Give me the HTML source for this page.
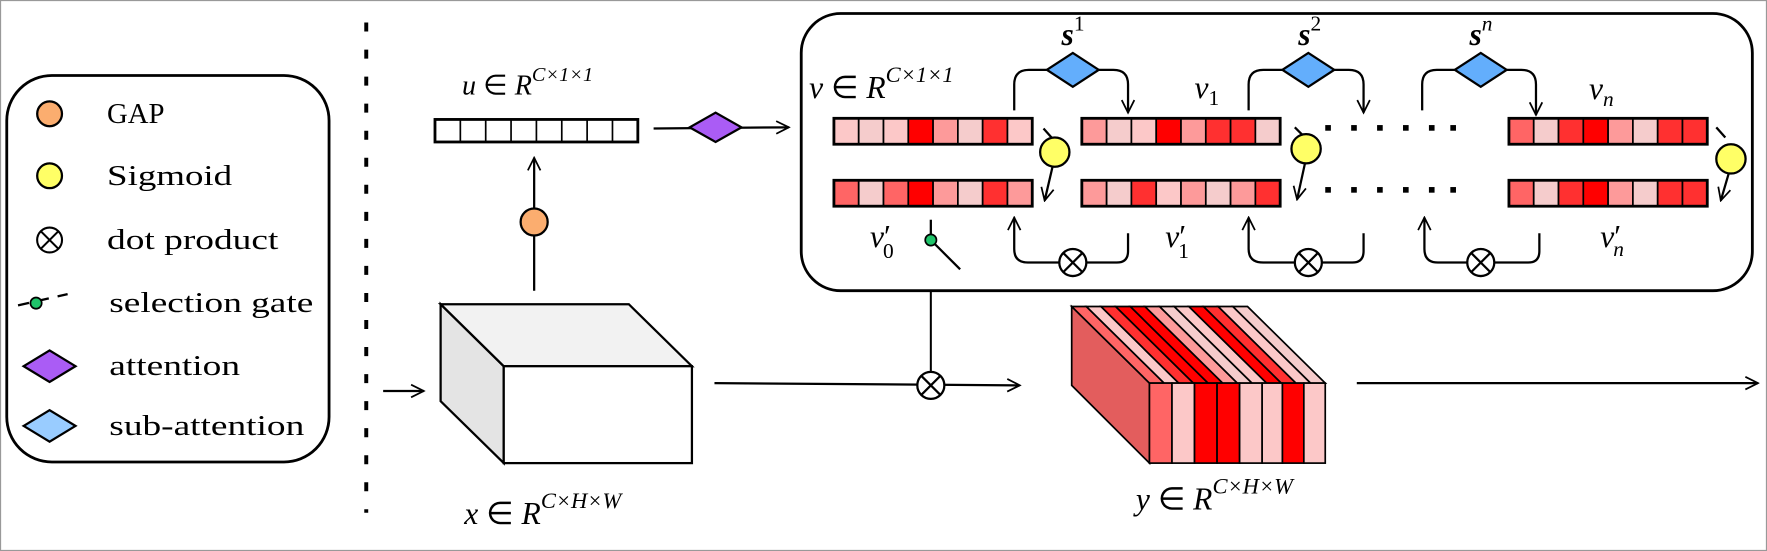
<!DOCTYPE html>
<html><head><meta charset="utf-8"><style>
html,body{margin:0;padding:0;background:#fff}
svg{display:block}
text{font-family:"Liberation Serif",serif;fill:#000}
.m{font-style:italic}
</style></head><body>
<svg width="1767" height="551" viewBox="0 0 1568 489" preserveAspectRatio="none" xmlns="http://www.w3.org/2000/svg">
<defs>
<marker id="ar" viewBox="0 0 20 20" refX="18" refY="10" markerWidth="14" markerHeight="14" markerUnits="userSpaceOnUse" orient="auto">
<path d="M2,2 L18,10 L2,18" fill="none" stroke="#000" stroke-width="2.2"/>
</marker>
<g id="otimes"><circle r="12" fill="#fff" stroke="#000" stroke-width="2"/><path d="M-8.5,-8.5L8.5,8.5M-8.5,8.5L8.5,-8.5" stroke="#000" stroke-width="2"/></g>
</defs>
<rect x="0.5" y="0.5" width="1567" height="488" fill="#fff" stroke="#999" stroke-width="1"/>
<!-- legend -->
<rect x="6" y="67" width="286" height="343" rx="40" fill="#fff" stroke="#000" stroke-width="2.5"/>
<circle cx="44" cy="101" r="11" fill="#fbad6f" stroke="#000" stroke-width="2"/>
<text x="95" y="109" font-size="25" textLength="51" lengthAdjust="spacingAndGlyphs">GAP</text>
<circle cx="44" cy="156" r="11" fill="#ffff66" stroke="#000" stroke-width="2"/>
<text x="95" y="164" font-size="25" textLength="111" lengthAdjust="spacingAndGlyphs">Sigmoid</text>
<g transform="translate(44,213) scale(0.92)"><use href="#otimes"/></g>
<text x="95" y="221" font-size="25" textLength="152" lengthAdjust="spacingAndGlyphs">dot product</text>
<line x1="16" y1="271" x2="60" y2="261" stroke="#000" stroke-width="2" stroke-dasharray="10,8"/>
<circle cx="32" cy="269" r="5" fill="#1fc46a" stroke="#000" stroke-width="1.5"/>
<text x="97" y="277" font-size="25" textLength="181" lengthAdjust="spacingAndGlyphs">selection gate</text>
<polygon points="21,325 44,311 67,325 44,339" fill="#aa5cf5" stroke="#000" stroke-width="2"/>
<text x="97" y="333" font-size="25" textLength="116" lengthAdjust="spacingAndGlyphs">attention</text>
<polygon points="21,378 44,364 67,378 44,392" fill="#99ccff" stroke="#000" stroke-width="2"/>
<text x="97" y="386" font-size="25" textLength="173" lengthAdjust="spacingAndGlyphs">sub-attention</text>
<!-- dotted separator -->
<line x1="325" y1="20" x2="325" y2="455" stroke="#000" stroke-width="3.5" stroke-dasharray="8,16"/>
<!-- u vector -->
<text x="410" y="84" font-size="25" class="m">u <tspan font-style="normal">∈</tspan> R<tspan font-size="18" dy="-12">C×1×1</tspan></text>
<rect x="386" y="106" width="180" height="20" fill="#fff" stroke="#000" stroke-width="2.5"/>
<g stroke="#000" stroke-width="1.5">
<line x1="408.5" y1="106" x2="408.5" y2="126"/><line x1="431" y1="106" x2="431" y2="126"/><line x1="453.5" y1="106" x2="453.5" y2="126"/><line x1="476" y1="106" x2="476" y2="126"/><line x1="498.5" y1="106" x2="498.5" y2="126"/><line x1="521" y1="106" x2="521" y2="126"/><line x1="543.5" y1="106" x2="543.5" y2="126"/>
</g>
<line x1="580" y1="114" x2="700" y2="113" stroke="#000" stroke-width="2" marker-end="url(#ar)"/>
<polygon points="612,113 635,100 658,113 635,126" fill="#aa5cf5" stroke="#000" stroke-width="2"/>
<line x1="474" y1="258" x2="474" y2="140" stroke="#000" stroke-width="2" marker-end="url(#ar)"/>
<circle cx="474" cy="197" r="12" fill="#fbad6f" stroke="#000" stroke-width="2"/>
<!-- cube -->
<polygon points="391,270 447,325 447,411 391,356" fill="#e4e4e4" stroke="#000" stroke-width="2"/>
<polygon points="391,270 558,270 614,325 447,325" fill="#f2f2f2" stroke="#000" stroke-width="2"/>
<rect x="447" y="325" width="167" height="86" fill="#fff" stroke="#000" stroke-width="2"/>
<line x1="340" y1="347" x2="376" y2="347" stroke="#000" stroke-width="2" marker-end="url(#ar)"/>
<text x="412" y="465" font-size="28" class="m">x <tspan font-style="normal">∈</tspan> R<tspan font-size="20" dy="-14">C×H×W</tspan></text>
<!-- mid line -->
<line x1="634" y1="340" x2="905" y2="342" stroke="#000" stroke-width="2" marker-end="url(#ar)"/>
<line x1="826" y1="240" x2="826" y2="330" stroke="#000" stroke-width="1.8"/>
<use href="#otimes" x="826" y="342"/>
<!-- red block -->
<g stroke="#000" stroke-width="1.5">
<polygon points="951,272 1020,340 1020,411 951,342" fill="#e35d5d"/>
<polygon points="951,272 964,272 1033,340 1020,340" fill="#ff6565"/>
<polygon points="964,272 977,272 1046,340 1033,340" fill="#fcc8c8"/>
<polygon points="977,272 990,272 1059,340 1046,340" fill="#ff3030"/>
<polygon points="990,272 1003,272 1072,340 1059,340" fill="#ff0000"/>
<polygon points="1003,272 1016,272 1085,340 1072,340" fill="#ff0000"/>
<polygon points="1016,272 1029,272 1098,340 1085,340" fill="#fd9a9a"/>
<polygon points="1029,272 1042,272 1111,340 1098,340" fill="#f5cccc"/>
<polygon points="1042,272 1055,272 1124,340 1111,340" fill="#fcc8c8"/>
<polygon points="1055,272 1068,272 1137,340 1124,340" fill="#ff0000"/>
<polygon points="1068,272 1081,272 1150,340 1137,340" fill="#ff3030"/>
<polygon points="1081,272 1094,272 1163,340 1150,340" fill="#fcc8c8"/>
<polygon points="1094,272 1107,272 1176,340 1163,340" fill="#f5cccc"/>
<rect x="1020" y="340" width="20" height="71" fill="#ff6565"/>
<rect x="1040" y="340" width="20" height="71" fill="#fcc8c8"/>
<rect x="1060" y="340" width="20" height="71" fill="#ff0000"/>
<rect x="1080" y="340" width="20" height="71" fill="#ff0000"/>
<rect x="1100" y="340" width="20" height="71" fill="#fcc8c8"/>
<rect x="1120" y="340" width="18" height="71" fill="#fcc8c8"/>
<rect x="1138" y="340" width="19" height="71" fill="#ff0000"/>
<rect x="1157" y="340" width="19" height="71" fill="#fcc8c8"/>
</g>
<line x1="1204" y1="340" x2="1560" y2="340" stroke="#000" stroke-width="2" marker-end="url(#ar)"/>
<text x="1008" y="452" font-size="28" class="m">y <tspan font-style="normal">∈</tspan> R<tspan font-size="20" dy="-14">C×H×W</tspan></text>
<!-- big box -->
<rect x="711" y="12" width="844" height="246" rx="35" fill="#fff" stroke="#000" stroke-width="2.5"/>
<text x="718" y="87" font-size="28" class="m">v <tspan font-style="normal">∈</tspan> R<tspan font-size="20" dy="-14">C×1×1</tspan></text>
<text x="1060" y="87" font-size="28" class="m">v<tspan font-style="normal" font-size="19" dy="6">1</tspan></text>
<text x="1410" y="88" font-size="28" class="m">v<tspan font-size="19" dy="6">n</tspan></text>
<text x="772" y="219" font-size="28" class="m">v<tspan font-style="normal">′</tspan><tspan font-style="normal" font-size="19" dx="-7" dy="10">0</tspan></text>
<text x="1034" y="219" font-size="28" class="m">v<tspan font-style="normal">′</tspan><tspan font-style="normal" font-size="19" dx="-7" dy="10">1</tspan></text>
<text x="1420" y="219" font-size="28" class="m">v<tspan font-style="normal">′</tspan><tspan font-size="19" dx="-7" dy="8">n</tspan></text>
<text x="942" y="40" font-size="28" class="m" font-weight="bold">s<tspan font-style="normal" font-weight="normal" font-size="19" dy="-13">1</tspan></text>
<text x="1152" y="40" font-size="28" class="m" font-weight="bold">s<tspan font-style="normal" font-weight="normal" font-size="19" dy="-13">2</tspan></text>
<text x="1304" y="40" font-size="28" class="m" font-weight="bold">s<tspan font-size="19" font-weight="normal" dy="-13">n</tspan></text>
<!-- vectors -->
<g stroke="#000" stroke-width="1.5">
<g transform="translate(740,105)">
<rect x="0" y="0" width="22" height="23" fill="#fcc8c8"/><rect x="22" y="0" width="22" height="23" fill="#f5cccc"/><rect x="44" y="0" width="22" height="23" fill="#fcc8c8"/><rect x="66" y="0" width="22" height="23" fill="#ff0000"/><rect x="88" y="0" width="22" height="23" fill="#fd9a9a"/><rect x="110" y="0" width="22" height="23" fill="#f5cccc"/><rect x="132" y="0" width="22" height="23" fill="#ff3030"/><rect x="154" y="0" width="22" height="23" fill="#fcc8c8"/>
<rect x="0" y="0" width="176" height="23" fill="none" stroke-width="2.5"/></g>
<g transform="translate(740,160)">
<rect x="0" y="0" width="22" height="23" fill="#ff6565"/><rect x="22" y="0" width="22" height="23" fill="#f5cccc"/><rect x="44" y="0" width="22" height="23" fill="#ff6565"/><rect x="66" y="0" width="22" height="23" fill="#ff0000"/><rect x="88" y="0" width="22" height="23" fill="#fd9a9a"/><rect x="110" y="0" width="22" height="23" fill="#f5cccc"/><rect x="132" y="0" width="22" height="23" fill="#ff3030"/><rect x="154" y="0" width="22" height="23" fill="#fd9a9a"/>
<rect x="0" y="0" width="176" height="23" fill="none" stroke-width="2.5"/></g>
<g transform="translate(960,105)">
<rect x="0" y="0" width="22" height="23" fill="#fd9a9a"/><rect x="22" y="0" width="22" height="23" fill="#f5cccc"/><rect x="44" y="0" width="22" height="23" fill="#fcc8c8"/><rect x="66" y="0" width="22" height="23" fill="#ff0000"/><rect x="88" y="0" width="22" height="23" fill="#fd9a9a"/><rect x="110" y="0" width="22" height="23" fill="#ff3030"/><rect x="132" y="0" width="22" height="23" fill="#ff3030"/><rect x="154" y="0" width="22" height="23" fill="#f5cccc"/>
<rect x="0" y="0" width="176" height="23" fill="none" stroke-width="2.5"/></g>
<g transform="translate(960,160)">
<rect x="0" y="0" width="22" height="23" fill="#fd9a9a"/><rect x="22" y="0" width="22" height="23" fill="#f5cccc"/><rect x="44" y="0" width="22" height="23" fill="#ff3030"/><rect x="66" y="0" width="22" height="23" fill="#fcc8c8"/><rect x="88" y="0" width="22" height="23" fill="#fd9a9a"/><rect x="110" y="0" width="22" height="23" fill="#f5cccc"/><rect x="132" y="0" width="22" height="23" fill="#fd9a9a"/><rect x="154" y="0" width="22" height="23" fill="#ff3030"/>
<rect x="0" y="0" width="176" height="23" fill="none" stroke-width="2.5"/></g>
<g transform="translate(1339,105)">
<rect x="0" y="0" width="22" height="23" fill="#ff6565"/><rect x="22" y="0" width="22" height="23" fill="#f5cccc"/><rect x="44" y="0" width="22" height="23" fill="#ff3030"/><rect x="66" y="0" width="22" height="23" fill="#ff0000"/><rect x="88" y="0" width="22" height="23" fill="#fd9a9a"/><rect x="110" y="0" width="22" height="23" fill="#f5cccc"/><rect x="132" y="0" width="22" height="23" fill="#ff3030"/><rect x="154" y="0" width="22" height="23" fill="#ff3030"/>
<rect x="0" y="0" width="176" height="23" fill="none" stroke-width="2.5"/></g>
<g transform="translate(1339,160)">
<rect x="0" y="0" width="22" height="23" fill="#ff6565"/><rect x="22" y="0" width="22" height="23" fill="#f5cccc"/><rect x="44" y="0" width="22" height="23" fill="#ff3030"/><rect x="66" y="0" width="22" height="23" fill="#ff0000"/><rect x="88" y="0" width="22" height="23" fill="#fd9a9a"/><rect x="110" y="0" width="22" height="23" fill="#f5cccc"/><rect x="132" y="0" width="22" height="23" fill="#ff3030"/><rect x="154" y="0" width="22" height="23" fill="#ff3030"/>
<rect x="0" y="0" width="176" height="23" fill="none" stroke-width="2.5"/></g>
</g>
<!-- dots -->
<g fill="#000">
<rect x="1176" y="111" width="5" height="5"/><rect x="1199" y="111" width="5" height="5"/><rect x="1222" y="111" width="5" height="5"/><rect x="1245" y="111" width="5" height="5"/><rect x="1268" y="111" width="5" height="5"/><rect x="1287" y="111" width="5" height="5"/>
<rect x="1176" y="166" width="5" height="5"/><rect x="1199" y="166" width="5" height="5"/><rect x="1222" y="166" width="5" height="5"/><rect x="1245" y="166" width="5" height="5"/><rect x="1268" y="166" width="5" height="5"/><rect x="1287" y="166" width="5" height="5"/>
</g>
<!-- sigmoid arrows -->
<g fill="none" stroke="#000" stroke-width="2">
<path d="M926,114 L934,123"/><path d="M934,148 L927,178" marker-end="url(#ar)"/>
<path d="M1149,113 L1157,121"/><path d="M1158,145 L1151,177" marker-end="url(#ar)"/>
<path d="M1523,113 L1531,122"/><path d="M1534,154 L1527,178" marker-end="url(#ar)"/>
</g>
<circle cx="936" cy="135" r="13" fill="#ffff66" stroke="#000" stroke-width="2"/>
<circle cx="1159" cy="132" r="13" fill="#ffff66" stroke="#000" stroke-width="2"/>
<circle cx="1536" cy="141" r="13" fill="#ffff66" stroke="#000" stroke-width="2"/>
<!-- top connectors -->
<g fill="none" stroke="#000" stroke-width="2">
<path d="M900,98 L900,75 Q900,62 913,62 L929,62"/><path d="M975,62 L988,62 Q1001,62 1001,75 L1001,100" marker-end="url(#ar)"/>
<path d="M1108,98 L1108,75 Q1108,62 1121,62 L1138,62"/><path d="M1184,62 L1197,62 Q1210,62 1210,75 L1210,100" marker-end="url(#ar)"/>
<path d="M1262,98 L1262,75 Q1262,62 1275,62 L1291,62"/><path d="M1337,62 L1350,62 Q1363,62 1363,75 L1363,102" marker-end="url(#ar)"/>
</g>
<polygon points="929,62 952,47 975,62 952,77" fill="#63aefc" stroke="#000" stroke-width="2"/>
<polygon points="1138,62 1161,47 1184,62 1161,77" fill="#63aefc" stroke="#000" stroke-width="2"/>
<polygon points="1291,62 1314,47 1337,62 1314,77" fill="#63aefc" stroke="#000" stroke-width="2"/>
<!-- bottom connectors -->
<g fill="none" stroke="#000" stroke-width="2">
<path d="M1001,207 L1001,223 Q1001,233 991,233 L964,233"/><path d="M940,233 L912,233 Q900,233 900,221 L900,193" marker-end="url(#ar)"/>
<path d="M1210,207 L1210,223 Q1210,233 1200,233 L1173,233"/><path d="M1149,233 L1121,233 Q1108,233 1108,221 L1108,193" marker-end="url(#ar)"/>
<path d="M1366,207 L1366,223 Q1366,233 1356,233 L1326,233"/><path d="M1302,233 L1276,233 Q1264,233 1264,221 L1264,193" marker-end="url(#ar)"/>
</g>
<use href="#otimes" x="952" y="233"/>
<use href="#otimes" x="1161" y="233"/>
<use href="#otimes" x="1314" y="233"/>
<!-- selection gate -->
<line x1="826" y1="195" x2="826" y2="213" stroke="#000" stroke-width="2"/>
<line x1="826" y1="213" x2="852" y2="239" stroke="#000" stroke-width="2"/>
<circle cx="826" cy="213" r="5" fill="#1fc46a" stroke="#000" stroke-width="1.5"/>
</svg>
</body></html>
